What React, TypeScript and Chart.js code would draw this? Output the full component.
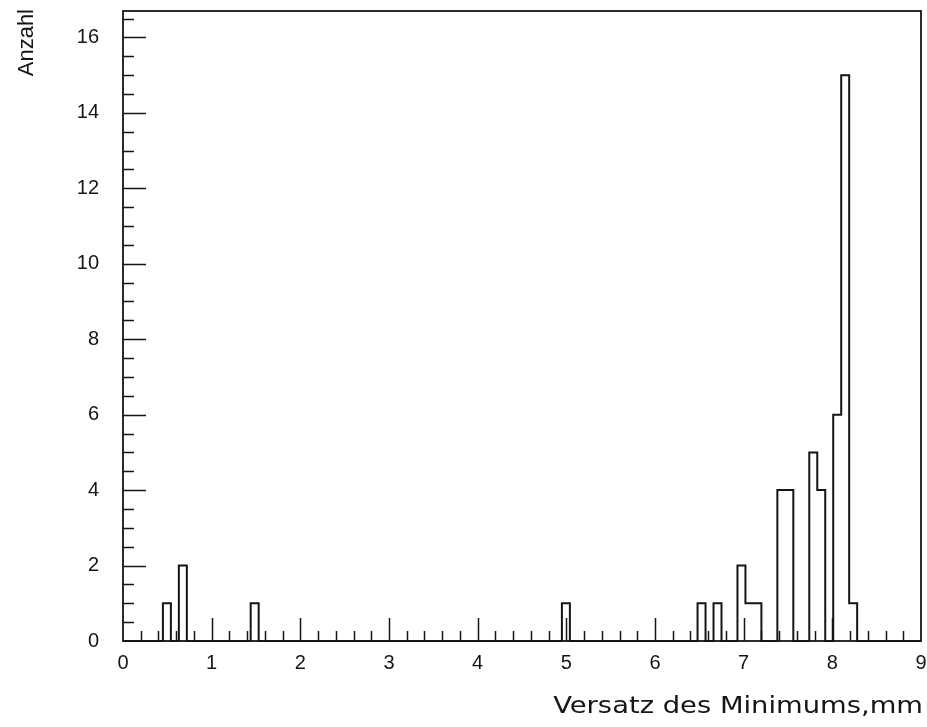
import { useEffect, useRef } from "react";
import { Chart, registerables } from "chart.js";

Chart.register(...registerables);

// Histogram: 100 bins of width 0.09 mm covering 0..9 mm
const binWidth = 0.09;
const binCount = 100;
// lower edges (mm) of the non-empty bins and their entries
const filledBinLow = [0.45, 0.63, 1.44, 4.95, 6.48, 6.66, 6.93, 7.02, 7.11, 7.38, 7.47, 7.74, 7.83, 8.01, 8.1, 8.19];
const filledBinCounts = [1, 2, 1, 1, 1, 1, 2, 1, 1, 4, 4, 5, 4, 6, 15, 1];

const xTickValues = [0, 1, 2, 3, 4, 5, 6, 7, 8, 9];
const yTickValues = [0, 2, 4, 6, 8, 10, 12, 14, 16];
const xMinorStep = 0.2;
const yMinorStep = 0.5;
const yMax = 16.7;

const xTitle = "Versatz des Minimums,mm";
const yTitle = "Anzahl";

const ink = "#151515";

// step outline: one point per bin at its lower edge, closed at the upper end
function buildOutline() {
  const counts: number[] = new Array(binCount).fill(0);
  filledBinLow.forEach((lo, i) => {
    counts[Math.round(lo / binWidth)] = filledBinCounts[i];
  });
  const pts = counts.map((c, k) => ({ x: k * binWidth, y: c }));
  pts.push({ x: binCount * binWidth, y: 0 });
  return pts;
}

const isOn = (v: number, list: number[]) => list.some((t) => Math.abs(t - v) < 1e-6);

const axisDecor = {
  id: "axisDecor",
  afterDraw(chart: any) {
    const { ctx, chartArea: a, scales } = chart;
    const xs = scales.x;
    const ys = scales.y;
    ctx.save();
    ctx.strokeStyle = ink;
    ctx.lineWidth = 1.5;
    ctx.beginPath();
    // inward ticks on the bottom axis
    for (let i = 1; ; i++) {
      const v = xs.min + i * xMinorStep;
      if (v >= xs.max - 1e-6) break;
      const px = Math.round(xs.getPixelForValue(v)) + 0.5;
      const len = isOn(v, xTickValues) ? 23 : 10;
      ctx.moveTo(px, a.bottom);
      ctx.lineTo(px, a.bottom - len);
    }
    // inward ticks on the left axis
    for (let i = 1; ; i++) {
      const v = ys.min + i * yMinorStep;
      if (v >= ys.max - 1e-6) break;
      const py = Math.round(ys.getPixelForValue(v)) + 0.5;
      const len = isOn(v, yTickValues) ? 23 : 11;
      ctx.moveTo(a.left, py);
      ctx.lineTo(a.left + len, py);
    }
    ctx.stroke();

    // frame
    ctx.lineWidth = 1.8;
    ctx.strokeRect(a.left, a.top, a.right - a.left, a.bottom - a.top);

    // axis titles
    ctx.fillStyle = ink;
    ctx.save();
    ctx.font = '23px "DejaVu Sans"';
    ctx.textAlign = "right";
    ctx.textBaseline = "alphabetic";
    ctx.translate(a.right + 2, 713);
    ctx.scale(1.19, 1);
    ctx.fillText(xTitle, 0, 0);
    ctx.restore();

    ctx.save();
    ctx.font = '22px "Liberation Sans"';
    ctx.textAlign = "right";
    ctx.textBaseline = "alphabetic";
    ctx.translate(33, 9);
    ctx.rotate(-Math.PI / 2);
    ctx.fillText(yTitle, 0, 0);
    ctx.restore();

    ctx.restore();
  },
};

const noEdgePadding = (s: any) => {
  s.paddingLeft = 0;
  s.paddingRight = 0;
  s.paddingTop = 0;
  s.paddingBottom = 0;
};

export default function App() {
  const canvasRef = useRef<HTMLCanvasElement | null>(null);

  useEffect(() => {
    if (!canvasRef.current) return;
    const tickFont = { family: '"Liberation Sans"', size: 20 };
    const chart = new Chart(canvasRef.current, {
      type: "line",
      data: {
        datasets: [
          {
            data: buildOutline(),
            stepped: "before",
            borderColor: ink,
            borderWidth: 2,
            pointRadius: 0,
            fill: false,
            clip: false,
          } as any,
        ],
      },
      options: {
        animation: false,
        responsive: false,
        events: [],
        layout: { padding: { top: 11, right: 6, left: 0, bottom: 0 } },
        plugins: { legend: { display: false }, tooltip: { enabled: false } },
        scales: {
          x: {
            type: "linear",
            min: 0,
            max: 9,
            afterBuildTicks: (s: any) => {
              s.ticks = xTickValues.map((v) => ({ value: v }));
            },
            afterFit: (s: any) => {
              s.height = 86;
              noEdgePadding(s);
            },
            grid: { display: false, drawTicks: false },
            border: { display: false },
            ticks: {
              padding: 10,
              color: ink,
              font: tickFont,
              maxRotation: 0,
              autoSkip: false,
            },
          },
          y: {
            type: "linear",
            min: 0,
            max: yMax,
            afterBuildTicks: (s: any) => {
              s.ticks = yTickValues.map((v) => ({ value: v }));
            },
            afterFit: (s: any) => {
              s.width = 123;
              noEdgePadding(s);
            },
            grid: { display: false, drawTicks: false },
            border: { display: false },
            ticks: {
              padding: 24,
              color: ink,
              font: tickFont,
              autoSkip: false,
            },
          },
        },
      },
      plugins: [axisDecor],
    });
    return () => chart.destroy();
  }, []);

  return (
    <div style={{ position: "fixed", left: 0, top: 0, width: 927, height: 727, background: "#fff" }}>
      <canvas ref={canvasRef} width={927} height={727} />
    </div>
  );
}
